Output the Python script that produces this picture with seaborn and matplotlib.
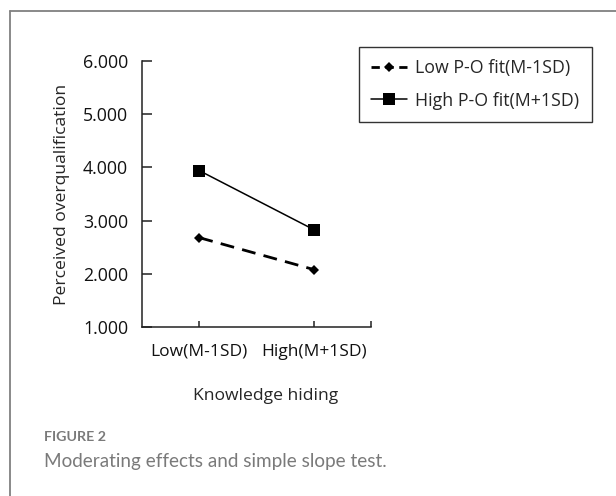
import pandas as pd
import numpy as np
import matplotlib
matplotlib.use("Agg")
import matplotlib.pyplot as plt
import seaborn as sns
from matplotlib.lines import Line2D

# values
levels = ["Low(M-1SD)", "High(M+1SD)"]
low_fit = [2.68, 2.08]
high_fit = [3.94, 2.83]
series_names = ["Low P-O fit(M-1SD)", "High P-O fit(M+1SD)"]
y_ticks = [1, 2, 3, 4, 5, 6]

sns.set_style("white")
plt.rcParams['font.family'] = ['Open Sans', 'DejaVu Sans']

fig = plt.figure(figsize=(6.16, 4.96), dpi=100)
ax = fig.add_axes([0.2305, 0.3407, 0.372, 0.5363])

x = np.arange(len(levels))
sns.lineplot(x=x, y=low_fit, ax=ax, color="black", linewidth=2.0,
             linestyle=(0, (5, 3)), marker="D", markersize=5.5,
             markeredgewidth=0)
sns.lineplot(x=x, y=high_fit, ax=ax, color="black", linewidth=1.1,
             marker="s", markersize=8, markeredgewidth=0)

ax.set_xlim(-0.5, 1.5)
ax.set_ylim(1, 6)
ax.set_yticks(y_ticks)
ax.set_yticklabels([f"{v:.3f}" for v in y_ticks])
ax.set_xticks([0, 1, 1.5])
ax.set_xticklabels(levels + [""])
ax.tick_params(axis="y", left=True, direction="in", length=7, width=1.1,
               color="#222222", labelsize=12.8, pad=10, labelcolor="#111111")
ax.tick_params(axis="x", bottom=True, direction="in", length=4, width=1.1,
               color="#222222", labelsize=12.5, pad=12, labelcolor="#111111")
ax.set_ylabel("Perceived overqualification", fontsize=12.6, labelpad=9)
ax.set_xlabel("Knowledge hiding", fontsize=12.6)
ax.xaxis.set_label_coords(0.54, -0.23)

sns.despine(ax=ax)
for s in ["left", "bottom"]:
    ax.spines[s].set_linewidth(1.1)
    ax.spines[s].set_color("#222222")

handles = [
    Line2D([0], [0], color="black", linewidth=2.0, linestyle=(0, (3, 2)),
           marker="D", markersize=5.5, markeredgewidth=0),
    Line2D([0], [0], color="black", linewidth=1.1, marker="s",
           markersize=8, markeredgewidth=0),
]
leg = fig.legend(handles, series_names, loc="upper left",
                 bbox_to_anchor=(359 / 616, 1 - 47 / 496),
                 fontsize=12.8, frameon=True, fancybox=False,
                 edgecolor="black", handlelength=2.0, handletextpad=0.45,
                 borderpad=0.7, labelspacing=0.8, borderaxespad=0)
leg.get_frame().set_linewidth(1.0)

# caption and page frame
fig.text(44 / 616, 1 - 437 / 496, "FIGURE 2", fontsize=10.3, fontweight="bold",
         color="#7a7a7a", va="center", family=["Lato", "DejaVu Sans"])
fig.text(44 / 616, 1 - 461 / 496, "Moderating effects and simple slope test.",
         fontsize=13.6, color="#7a7a7a", va="center",
         family=["Lato", "DejaVu Sans"])
fig.add_artist(Line2D([9.5 / 616, 9.5 / 616], [0, 1 - 10.5 / 496],
                      color="#808080", linewidth=1.3))
fig.add_artist(Line2D([9.5 / 616, 1], [1 - 10.5 / 496, 1 - 10.5 / 496],
                      color="#808080", linewidth=1.3))

fig.savefig("out.png", dpi=100)
